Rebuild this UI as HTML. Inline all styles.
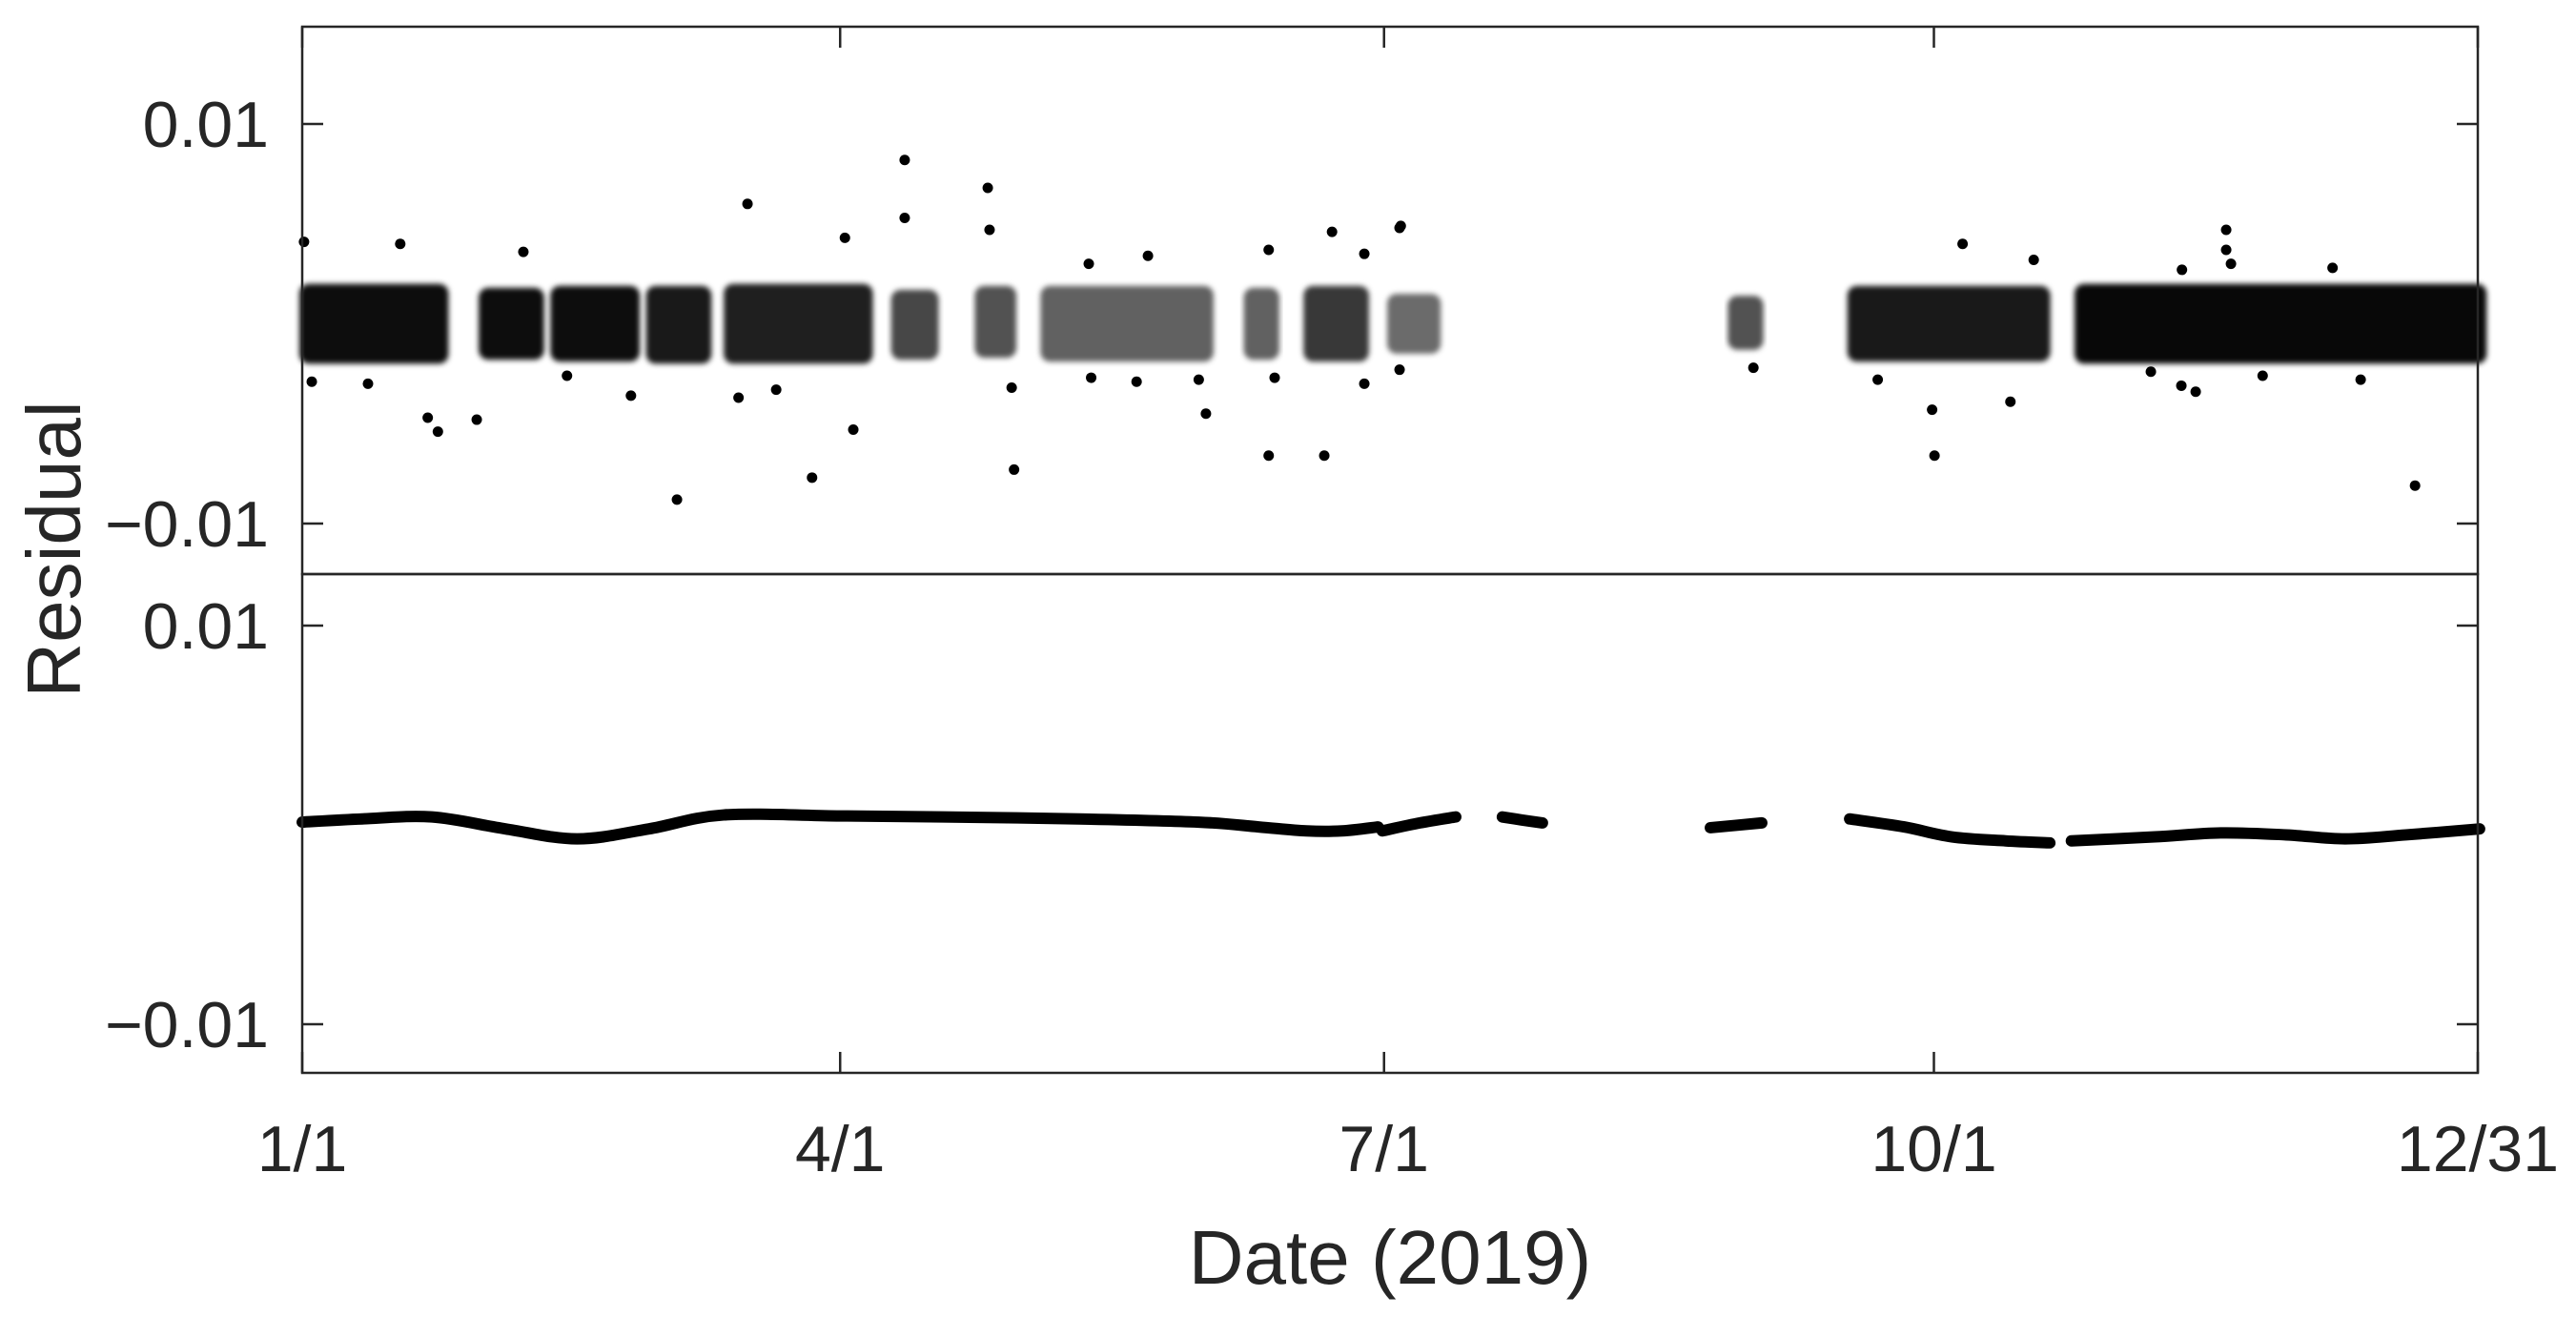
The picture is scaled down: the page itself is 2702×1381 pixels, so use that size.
<!DOCTYPE html>
<html><head><meta charset="utf-8"><style>
html,body{margin:0;padding:0;background:#fff;}
svg{display:block;font-family:"Liberation Sans",Arial,sans-serif;}
</style></head><body>
<svg id="chart" width="2702" height="1381" viewBox="0 0 2702 1381" xmlns="http://www.w3.org/2000/svg">
<defs><filter id="fz" x="-10%" y="-30%" width="120%" height="160%"><feGaussianBlur stdDeviation="3"/></filter></defs>
<rect width="2702" height="1381" fill="#fff"/>
<g id="marks"></g>
<g id="axes"></g>
</svg>
<script>
// ---- data ----
const xTickDays = [0, 90, 181, 273, 364];
const xTickLabels = ["1/1", "4/1", "7/1", "10/1", "12/31"];
const yTickVals = [0.01, -0.01];
const yTickLabels = ["0.01", "\u22120.01"];

// dense residual clusters (upper panel): day range, value range, density
const bandStart = [0, 30, 42, 58, 71, 99, 113, 124, 158, 168, 182, 239, 259, 297];
const bandEnd   = [24, 40, 56, 68, 95, 106, 119, 152, 163, 178, 190, 244, 292, 365];
const bandLow   = [-0.0020,-0.0018,-0.0019,-0.0020,-0.0020,-0.0018,-0.0017,-0.0019,-0.0018,-0.0019,-0.0015,-0.0013,-0.0019,-0.0020];
const bandHigh  = [0.0020,0.0018,0.0019,0.0019,0.0020,0.0017,0.0019,0.0019,0.0018,0.0019,0.0015,0.0014,0.0019,0.0020];
const bandDensity = [0.95,0.95,0.95,0.9,0.88,0.72,0.68,0.62,0.62,0.78,0.58,0.68,0.9,0.97];

// individual scattered residuals (upper panel)
const ptDays = [100.8,100.8,114.7,115,74.5,90.8,183.6,172.3,161.7,177.7,37,0.3,16.4,141.5,131.6,
  21,22.7,29.2,55,73,79.3,92.2,85.3,62.7,118.7,119.1,151.2,161.7,171,162.7,177.7,132,139.6,150,1.6,11,44.3,
  183.8,277.8,289.7,321.9,321.9,322.7,339.7,314.5,263.6,272.7,273.1,285.8,314.4,316.8,344.4,353.5,328,309.3,183.6,242.8];
const ptVals = [0.0082,0.0053,0.0068,0.0047,0.0060,0.0043,0.0048,0.0046,0.0037,0.0035,0.0036,0.0041,0.0040,0.0034,0.0030,
  -0.0047,-0.0054,-0.0048,-0.0036,-0.0037,-0.0033,-0.0053,-0.0077,-0.0088,-0.0032,-0.0073,-0.0045,-0.0066,-0.0066,-0.0027,-0.0030,-0.0027,-0.0029,-0.0028,-0.0029,-0.0030,-0.0026,
  0.0049,0.0040,0.0032,0.0047,0.0037,0.0030,0.0028,0.0027,-0.0028,-0.0043,-0.0066,-0.0039,-0.0031,-0.0034,-0.0028,-0.0081,-0.0026,-0.0024,-0.0023,-0.0022];

// smooth trend (lower panel), null = gap
const lineDays = [0,10,21.7,34,46,58,70.5,90,107,130,150,160,168,174,180, null, 180.7,187,193, null, 200.8,204,207.5, null, 235.6,244.2, null, 258.9,268,276,285,292.4, null, 296,310,321,332,341.8,352,364.3];
const lineVals = [0.00014,0.0003,0.0004,-0.0002,-0.0007,-0.0002,0.0005,0.00045,0.0004,0.0003,0.00014,-0.0001,-0.0003,-0.0003,-0.0001, null, -0.0003,0.0001,0.0004, null, 0.0004,0.00025,0.0001, null, -0.00014,0.0001, null, 0.0003,-0.0001,-0.0006,-0.0008,-0.0009, null, -0.0008,-0.0006,-0.0004,-0.0005,-0.0007,-0.0005,-0.0002];

// ---- layout ----
const L = 317, R = 2599, T = 28, MID = 602, B = 1125;
const xS = d => L + d / 364 * (R - L);
const yU = v => 339.5 - v / 0.001 * 20.95;
const yLo = v => 865 - v / 0.001 * 20.9;
const NS = "http://www.w3.org/2000/svg";
const marks = document.getElementById('marks');
const axes = document.getElementById('axes');
function mk(tag, attrs, parent) {
  const e = document.createElementNS(NS, tag);
  for (const k in attrs) e.setAttribute(k, attrs[k]);
  parent.appendChild(e);
  return e;
}

// bands
for (let i = 0; i < bandStart.length; i++) {
  const x1 = xS(bandStart[i]) - 3, x2 = xS(bandEnd[i]) + 3;
  const y1 = yU(bandHigh[i]), y2 = yU(bandLow[i]);
  const r = mk('rect', {x: x1, y: y1, width: x2 - x1, height: y2 - y1, rx: 10, fill: '#000', 'fill-opacity': bandDensity[i], filter: 'url(#fz)'}, marks);
  
  
}
// points
for (let i = 0; i < ptDays.length; i++) {
  const c = mk('circle', {cx: xS(ptDays[i]), cy: yU(ptVals[i]), r: 5.5, fill: '#000'}, marks);
  
  
}
// trend line segments
let seg = [];
function flush() {
  if (seg.length > 1) {
    let d = 'M' + seg[0][0] + ',' + seg[0][1];
    for (let i = 0; i < seg.length - 1; i++) {
      const p0 = seg[Math.max(0, i - 1)], p1 = seg[i], p2 = seg[i + 1], p3 = seg[Math.min(seg.length - 1, i + 2)];
      const c1x = p1[0] + (p2[0] - p0[0]) / 6, c1y = p1[1] + (p2[1] - p0[1]) / 6;
      const c2x = p2[0] - (p3[0] - p1[0]) / 6, c2y = p2[1] - (p3[1] - p1[1]) / 6;
      d += ' C' + c1x + ',' + c1y + ' ' + c2x + ',' + c2y + ' ' + p2[0] + ',' + p2[1];
    }
    const p = mk('path', {d: d, fill: 'none', stroke: '#000', 'stroke-width': 12, 'stroke-linecap': 'round', 'stroke-linejoin': 'round'}, marks);
    
    
  }
  seg = [];
}
for (let i = 0; i < lineDays.length; i++) {
  if (lineDays[i] === null) { flush(); continue; }
  seg.push([xS(lineDays[i]), yLo(lineVals[i])]);
}
flush();

// axes boxes
const ax = '#262626';
const box1 = mk('rect', {x: L, y: T, width: R - L, height: MID - T, fill: 'none', stroke: ax, 'stroke-width': 2.5}, axes);


const box2 = mk('rect', {x: L, y: MID, width: R - L, height: B - MID, fill: 'none', stroke: ax, 'stroke-width': 2.5}, axes);



// x ticks
for (let i = 0; i < xTickDays.length; i++) {
  const x = xS(xTickDays[i]);
  mk('line', {x1: x, x2: x, y1: T, y2: T + 22, stroke: ax, 'stroke-width': 2.5}, axes);
  mk('line', {x1: x, x2: x, y1: B, y2: B - 22, stroke: ax, 'stroke-width': 2.5}, axes);
  const t = mk('text', {x: x, y: 1228, 'text-anchor': 'middle', 'font-size': 68, fill: ax}, axes);
  t.textContent = xTickLabels[i];
  
  
}
// y ticks both panels
for (let i = 0; i < yTickVals.length; i++) {
  [yU(yTickVals[i]), yLo(yTickVals[i])].forEach(y => {
    mk('line', {x1: L, x2: L + 22, y1: y, y2: y, stroke: ax, 'stroke-width': 2.5}, axes);
    mk('line', {x1: R, x2: R - 22, y1: y, y2: y, stroke: ax, 'stroke-width': 2.5}, axes);
    const t = mk('text', {x: 282, y: y + 24, 'text-anchor': 'end', 'font-size': 68, fill: ax}, axes);
    t.textContent = yTickLabels[i];
    
    
  });
}
// axis titles
const xt = mk('text', {x: 1458, y: 1346, 'text-anchor': 'middle', 'font-size': 80, fill: ax}, axes);
xt.textContent = 'Date (2019)';


const yt = mk('text', {x: 0, y: 0, 'text-anchor': 'middle', 'font-size': 80, fill: ax, transform: 'translate(84,576) rotate(-90)'}, axes);
yt.textContent = 'Residual';


</script>
</body></html>
